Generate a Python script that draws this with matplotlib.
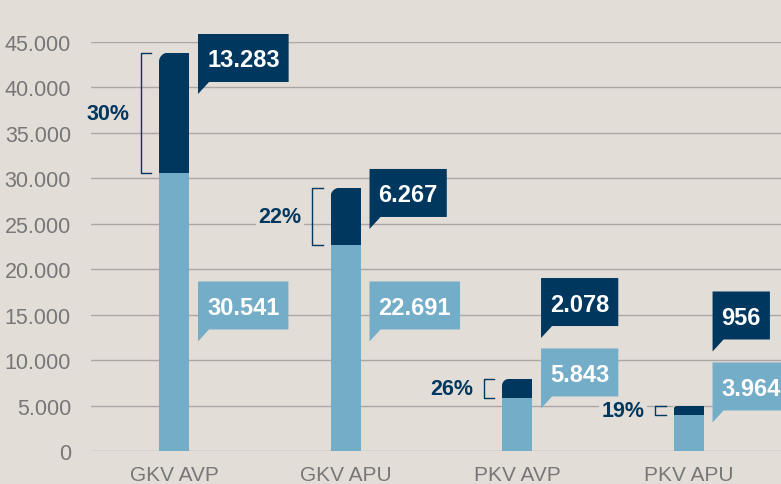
import numpy as np
import matplotlib
matplotlib.use('Agg')
import matplotlib.pyplot as plt
from matplotlib.patches import Polygon
from matplotlib.transforms import IdentityTransform

plt.rcParams['font.family'] = ['Liberation Sans', 'DejaVu Sans']

categories = ['GKV AVP', 'GKV APU', 'PKV AVP', 'PKV APU']
base_values = [30541, 22691, 5843, 3964]
top_values = [13283, 6267, 2078, 956]
y_ticks = [0, 5000, 10000, 15000, 20000, 25000, 30000, 35000, 40000, 45000]

# where the callout boxes sit (box centre, data units)
dark_box_y = [43240, 28390, 16390, 14910]
light_box_y = [16010, 16010, 8640, 7100]

bg = '#e3ddd8'
navy = '#00375f'
light = '#74adc8'
grid_col = '#aaa7a4'
gray = '#777777'


def fmt(v):
    return '{:,}'.format(int(v)).replace(',', '.')


fig = plt.figure(figsize=(7.81, 4.85), dpi=100, facecolor=bg)
ax = fig.add_axes([91 / 781, 1 - 452 / 485, (781 - 91) / 781, 409 / 485])
ax.set_facecolor(bg)
ax.set_xlim(-0.484, 3.539)
ax.set_ylim(0, 45000)

x = np.arange(len(categories))
bw = 30 / 171.5
totals = [b + t for b, t in zip(base_values, top_values)]

ax.bar(x, base_values, bw, color=light, zorder=3)
ax.bar(x, top_values, bw, bottom=base_values, color=navy, zorder=3)

ax.set_yticks(y_ticks)
ax.set_yticklabels([fmt(v) for v in y_ticks])
ax.set_xticks(x)
ax.set_xticklabels(categories)
ax.yaxis.grid(True, color=grid_col, lw=1.0)
ax.set_axisbelow(True)
for s in ax.spines.values():
    s.set_visible(False)
ax.tick_params(axis='y', length=0, pad=14.4, labelsize=15.5, labelcolor=gray)
ax.tick_params(axis='x', length=0, pad=10, labelsize=15, labelcolor=gray)

renderer = fig.canvas.get_renderer()
px = 1 / 171.5  # one pixel in x data units


def callout(xc, yc, text, color):
    X0, Y0 = ax.transData.transform((xc, yc))
    L = X0 + 24
    t = ax.text(0, 0, text, transform=IdentityTransform(), ha='center', va='baseline',
                color='white', fontsize=17, fontweight='bold', zorder=6, clip_on=False)
    w = t.get_window_extent(renderer).width
    W = w + 18
    fs_px = 17 * fig.dpi / 72
    t.set_position((L + W / 2, Y0 - 0.36 * fs_px))
    T, B = Y0 + 24, Y0 - 24
    verts = [(L, T), (L + W, T), (L + W, B), (L + 11, B), (L, B - 12), (L, T)]
    ax.add_patch(Polygon(verts, closed=True, transform=IdentityTransform(),
                         facecolor=color, edgecolor='none', zorder=5, clip_on=False))


for i in range(len(categories)):
    xc = x[i]
    callout(xc, dark_box_y[i], fmt(top_values[i]), navy)
    callout(xc, light_box_y[i], fmt(base_values[i]), light)

    # bracket + share of the top segment
    ax.plot([xc - 23 * px, xc - 33.5 * px, xc - 33.5 * px, xc - 23 * px],
            [totals[i], totals[i], base_values[i], base_values[i]],
            color=navy, lw=1.0, zorder=4, clip_on=False)
    pct = round(100 * top_values[i] / totals[i])
    ax.text(xc - 44 * px, (base_values[i] + totals[i]) / 2, '{}%'.format(pct),
            ha='right', va='center', color=navy, fontsize=15.5, fontweight='bold',
            zorder=4, bbox=dict(facecolor=bg, edgecolor='none', pad=2))

    # rounded top-left corner of the bar
    X, Y = ax.transData.transform((xc - bw / 2, totals[i]))
    h = ax.transData.transform((0, totals[i]))[1] - ax.transData.transform((0, base_values[i]))[1]
    r = min(9, 0.35 * h)
    ang = np.linspace(np.pi, np.pi / 2, 12)
    arc = [(X + r + r * np.cos(a), Y - r + r * np.sin(a)) for a in ang]
    ax.add_patch(Polygon([(X - 0.5, Y + 0.5)] + arc, closed=True, transform=IdentityTransform(),
                         facecolor=bg, edgecolor='none', zorder=3.5))

fig.savefig('out.png', dpi=100, facecolor=bg)
